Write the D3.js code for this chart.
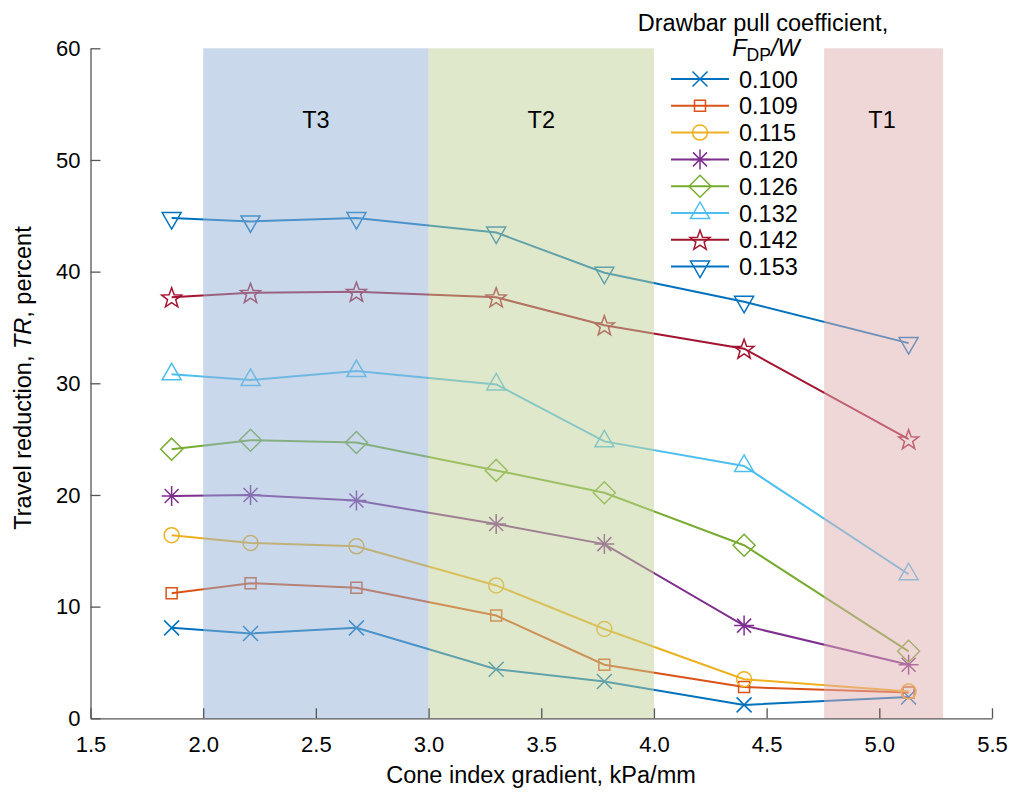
<!DOCTYPE html>
<html><head><meta charset="utf-8">
<script src="https://cdn.jsdelivr.net/npm/d3@7"></script>
<style>
body{margin:0;background:#fff;}
text{font-family:"Liberation Sans",Arial,sans-serif;}
</style></head>
<body><svg id="c" width="1012" height="794"></svg>
<script>
const xValues = [1.86, 2.21, 2.68, 3.30, 3.78, 4.40, 5.13];
const seriesNames = ["0.100","0.109","0.115","0.120","0.126","0.132","0.142","0.153"];
const s100 = [8.1, 7.6, 8.1, 4.4, 3.3, 1.2, 1.9];
const s109 = [11.2, 12.1, 11.7, 9.2, 4.8, 2.8, 2.3];
const s115 = [16.4, 15.7, 15.4, 11.9, 8.0, 3.5, 2.4];
const s120 = [19.9, 20.0, 19.5, 17.4, 15.6, 8.3, 4.8];
const s126 = [24.1, 24.9, 24.7, 22.2, 20.2, 15.5, 6.0];
const s132 = [30.8, 30.3, 31.1, 29.9, 24.8, 22.6, 12.9];
const s142 = [37.7, 38.1, 38.2, 37.7, 35.2, 33.1, 25.0];
const s153 = [44.8, 44.5, 44.8, 43.5, 39.9, 37.3, 33.6];
const seriesValues = [s100,s109,s115,s120,s126,s132,s142,s153];
const seriesColors = ["#0072BD","#D95319","#EDB120","#7E2F8E","#77AC30","#4DBEEE","#A2142F","#0072BD"];
const seriesMarkers = ["cross","square","circle","asterisk","diamond","triUp","star","triDown"];
const xTicks = [1.5,2.0,2.5,3.0,3.5,4.0,4.5,5.0,5.5];
const yTicks = [0,10,20,30,40,50,60];
const bandNames = ["T3","T2","T1"];
const bandStart = [2.0, 3.0, 4.755];
const bandEnd = [3.0, 4.0, 5.283];
const bandColors = ["#93b1d5","#c1d197","#dfafb1"];

const svg = d3.select("#c");
const x = d3.scaleLinear().domain([1.5,5.5]).range([90.5,992]);
const y = d3.scaleLinear().domain([0,60]).range([718.3,48.3]);
const FS = 23.5, TFS = 22;

function markerPath(t){
  const p = d3.path();
  if(t==="cross"){const h=7.5;p.moveTo(-h,-h);p.lineTo(h,h);p.moveTo(-h,h);p.lineTo(h,-h);}
  else if(t==="square"){const h=5.5;p.rect(-h,-h,2*h,2*h);}
  else if(t==="circle"){p.moveTo(7.5,0);p.arc(0,0,7.5,0,2*Math.PI);}
  else if(t==="asterisk"){const r=10,d=7;p.moveTo(-r,0);p.lineTo(r,0);p.moveTo(0,-r);p.lineTo(0,r);p.moveTo(-d,-d);p.lineTo(d,d);p.moveTo(-d,d);p.lineTo(d,-d);}
  else if(t==="diamond"){const h=11;p.moveTo(0,-h);p.lineTo(h,0);p.lineTo(0,h);p.lineTo(-h,0);p.closePath();}
  else if(t==="triUp"){p.moveTo(0,-11);p.lineTo(9.5,5.5);p.lineTo(-9.5,5.5);p.closePath();}
  else if(t==="triDown"){p.moveTo(0,11);p.lineTo(9.5,-5.5);p.lineTo(-9.5,-5.5);p.closePath();}
  else if(t==="star"){const R=10.5,r=4.3;for(let i=0;i<10;i++){const a=-Math.PI/2+i*Math.PI/5;const rr=i%2?r:R;const px=rr*Math.cos(a),py=rr*Math.sin(a)+1;if(i===0)p.moveTo(px,py);else p.lineTo(px,py);}p.closePath();}
  return p.toString();
}

const line = d3.line().x((d,i)=>x(xValues[i])).y(d=>y(d));
const gData = svg.append("g");
seriesValues.forEach((vals,k)=>{
  gData.append("path").attr("d",line(vals)).attr("fill","none")
    .attr("stroke",seriesColors[k]).attr("stroke-width",2);
  gData.selectAll(null).data(vals).enter().append("path")
    .attr("d",markerPath(seriesMarkers[k]))
    .attr("transform",(d,i)=>`translate(${x(xValues[i])},${y(d)})`)
    .attr("fill","none").attr("stroke",seriesColors[k]).attr("stroke-width",1.5);
});

// bands (translucent overlay)
bandNames.forEach((n,i)=>{
  svg.append("rect").attr("x",x(bandStart[i])).attr("y",y(60))
    .attr("width",x(bandEnd[i])-x(bandStart[i])).attr("height",y(0)-y(60))
    .attr("fill",bandColors[i]).attr("opacity",0.5);
  svg.append("text").attr("x",i===2?882:(x(bandStart[i])+x(bandEnd[i]))/2).attr("y",128)
    .attr("text-anchor","middle").attr("font-size",FS).attr("fill","#000").text(n);
});

// axes
const axC = "#555";
const gx = svg.append("g").attr("transform",`translate(0,${y(0)})`)
  .call(d3.axisBottom(x).tickValues(xTicks).tickFormat(d3.format(".1f")).tickSizeInner(-10).tickSizeOuter(0).tickPadding(18));
const gy = svg.append("g").attr("transform",`translate(${x(1.5)},0)`)
  .call(d3.axisLeft(y).tickValues(yTicks).tickFormat(d3.format("d")).tickSizeInner(-10).tickSizeOuter(0).tickPadding(10));
[gx,gy].forEach(g=>{
  g.select(".domain").attr("stroke",axC).attr("stroke-width",1.3);
  g.selectAll(".tick line").attr("stroke",axC).attr("stroke-width",1.3);
  g.selectAll(".tick text").attr("font-size",TFS).attr("fill","#000")
    .attr("font-family","'Liberation Sans',Arial,sans-serif");
});

// axis titles
svg.append("text").attr("x",541).attr("y",783).attr("text-anchor","middle")
  .attr("font-size",FS).text("Cone index gradient, kPa/mm");
const yt = svg.append("text").attr("transform","translate(31,378) rotate(-90)")
  .attr("text-anchor","middle").attr("font-size",FS);
yt.append("tspan").text("Travel reduction, ");
yt.append("tspan").attr("font-style","italic").text("TR");
yt.append("tspan").text(", percent");

// legend
svg.append("text").attr("x",763).attr("y",31).attr("text-anchor","middle")
  .attr("font-size",FS).text("Drawbar pull coefficient,");
const lt = svg.append("text").attr("x",766).attr("y",56).attr("text-anchor","middle").attr("font-size",FS);
lt.append("tspan").attr("font-style","italic").text("F");
lt.append("tspan").attr("font-size",FS*0.75).attr("dy",5).text("DP");
lt.append("tspan").attr("font-style","italic").attr("dy",-5).text("/W");
seriesNames.forEach((n,k)=>{
  const yy = 79 + k*26.8;
  svg.append("line").attr("x1",671).attr("x2",729).attr("y1",yy).attr("y2",yy)
    .attr("stroke",seriesColors[k]).attr("stroke-width",2);
  svg.append("path").attr("d",markerPath(seriesMarkers[k])).attr("transform",`translate(700,${yy})`)
    .attr("fill","none").attr("stroke",seriesColors[k]).attr("stroke-width",1.5);
  svg.append("text").attr("x",739).attr("y",yy+8.5).attr("font-size",FS).text(n);
});
</script></body></html>
